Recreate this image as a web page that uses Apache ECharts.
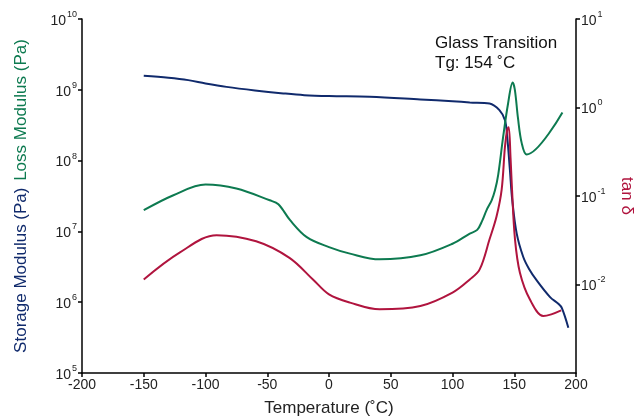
<!DOCTYPE html>
<html>
<head>
<meta charset="utf-8">
<script src="https://cdn.jsdelivr.net/npm/echarts@6/dist/echarts.min.js"></script>
<style>html,body{margin:0;padding:0;background:#fff}#c{width:639px;height:416px}</style>
</head>
<body>
<div id="c"></div>
<script>
// Temperature (°C) and values
const storageT = [-150, -130, -114, -100, -83, -60, -37, -20, 0, 33, 74, 100, 114, 130, 138, 142.5, 144.3, 146.5, 148.4, 152, 157.3, 162, 168.2, 179, 185.7, 188.5, 193.8];
const storageV = [1.58e9, 1.48e9, 1.37e9, 1.23e9, 1.10e9, 9.8e8, 8.9e8, 8.4e8, 8.15e8, 7.96e8, 7.31e8, 6.9e8, 6.64e8, 6.41e8, 5.16e8, 3.72e8, 2.16e8, 7.3e7, 2.75e7, 9.3e6, 4.35e6, 2.95e6, 2.03e6, 1.18e6, 9.5e5, 8.3e5, 4.36e5];

const lossT = [-150, -126, -100, -75, -48, -41, -31.5, -18, 0, 17, 41, 74, 100, 114, 120, 124, 127.6, 131.7, 134.4, 137, 141, 145, 148.7, 150.5, 153, 156, 160, 189];
const lossV = [1.99e7, 3.24e7, 4.59e7, 4.03e7, 2.75e7, 2.42e7, 1.44e7, 8.3e6, 6.0e6, 4.85e6, 4.03e6, 4.59e6, 6.7e6, 9.3e6, 1.05e7, 1.41e7, 2.0e7, 2.75e7, 3.8e7, 6.3e7, 2.16e8, 6.41e8, 1.27e9, 1.0e9, 4.0e8, 1.78e8, 1.22e8, 4.79e8];

const tanT = [-150, -121, -91, -59, -32, -13, 0, 17, 41, 74, 100, 114, 122, 130, 135.7, 139.8, 142.5, 144.3, 145.5, 147, 148.2, 150.6, 154.6, 162.7, 173.5, 180, 188];
const tanV = [0.0114, 0.0229, 0.0361, 0.0308, 0.020, 0.0114, 0.00773, 0.00624, 0.00524, 0.00571, 0.0081, 0.0114, 0.0148, 0.0324, 0.059, 0.118, 0.363, 0.56, 0.6, 0.27, 0.118, 0.0324, 0.0136, 0.00676, 0.0044, 0.0046, 0.0051];

const xTicks = [-200, -150, -100, -50, 0, 50, 100, 150, 200];
const leftTicks = [1e5, 1e6, 1e7, 1e8, 1e9, 1e10];
const rightTicks = [1e-2, 1e-1, 1, 10];

const BLUE = '#102a6c', GREEN = '#0d7a50', RED = '#b0143e';
const FONT = 'Liberation Sans, Arial, sans-serif';

const pairs = (t, v) => t.map((x, i) => [x, v[i]]);
const powLabel = v => '{b|10}{s|' + Math.round(Math.log10(v)) + '}';
const labelRich = {
  b: {fontSize: 14, color: '#222', fontFamily: FONT, lineHeight: 18, verticalAlign: 'bottom'},
  s: {fontSize: 9, color: '#222', fontFamily: FONT, lineHeight: 18, verticalAlign: 'top', padding: [0, 0, 2, 1]}
};

const chart = echarts.init(document.getElementById('c'), null, {renderer: 'canvas'});
chart.setOption({
  animation: false,
  backgroundColor: '#fff',
  grid: {left: 82, right: 63, top: 19, bottom: 43, containLabel: false, outerBoundsMode: 'none'},
  xAxis: {
    type: 'value', min: -200, max: 200, interval: 50,
    axisLine: {onZero: false, lineStyle: {color: '#000', width: 1.5}},
    axisTick: {length: 4, lineStyle: {color: '#000', width: 1.5}},
    splitLine: {show: false},
    axisLabel: {fontSize: 14, color: '#222', fontFamily: FONT, margin: 5, showMinLabel: true, showMaxLabel: true,
      customValues: xTicks},
    name: 'Temperature (˚C)', nameLocation: 'middle', nameGap: 27,
    nameTextStyle: {fontSize: 17, color: '#222', fontFamily: FONT}
  },
  yAxis: [{
    type: 'log', logBase: 10, min: 1e5, max: 1e10, position: 'left',
    axisLine: {show: true, onZero: false, lineStyle: {color: '#000', width: 1.5}},
    axisTick: {show: true, length: 4, lineStyle: {color: '#000', width: 1.5}, customValues: leftTicks},
    splitLine: {show: false},
    axisLabel: {formatter: powLabel, rich: labelRich, margin: 5, customValues: leftTicks},
    name: '{a|Storage Modulus (Pa)}  {g|Loss Modulus (Pa)}',
    nameLocation: 'middle', nameRotate: 90, nameGap: 52,
    nameTextStyle: {rich: {
      a: {fontSize: 17, color: BLUE, fontFamily: FONT},
      g: {fontSize: 17, color: GREEN, fontFamily: FONT}
    }}
  }, {
    type: 'log', logBase: 10, min: 1e-3, max: 10, position: 'right',
    axisLine: {show: true, onZero: false, lineStyle: {color: '#000', width: 1.5}},
    axisTick: {show: true, length: 4, lineStyle: {color: '#000', width: 1.5}, customValues: rightTicks},
    splitLine: {show: false},
    axisLabel: {formatter: powLabel, rich: labelRich, margin: 5, customValues: rightTicks},
    name: 'tan δ', nameLocation: 'middle', nameRotate: -90, nameGap: 42,
    nameTextStyle: {fontSize: 17, color: RED, fontFamily: FONT}
  }],
  graphic: [{
    type: 'text', left: 435, top: 33,
    style: {text: 'Glass Transition\nTg: 154 ˚C', fontSize: 17, lineHeight: 20, fill: '#111', fontFamily: FONT}
  }],
  series: [
    {name: 'Storage Modulus', type: 'line', yAxisIndex: 0, data: pairs(storageT, storageV),
      smooth: 0.35, showSymbol: false, lineStyle: {color: BLUE, width: 2}, itemStyle: {color: BLUE}},
    {name: 'Loss Modulus', type: 'line', yAxisIndex: 0, data: pairs(lossT, lossV),
      smooth: 0.35, showSymbol: false, lineStyle: {color: GREEN, width: 2}, itemStyle: {color: GREEN}},
    {name: 'tan δ', type: 'line', yAxisIndex: 1, data: pairs(tanT, tanV),
      smooth: 0.35, showSymbol: false, lineStyle: {color: RED, width: 2}, itemStyle: {color: RED}}
  ]
});
</script>
</body>
</html>
